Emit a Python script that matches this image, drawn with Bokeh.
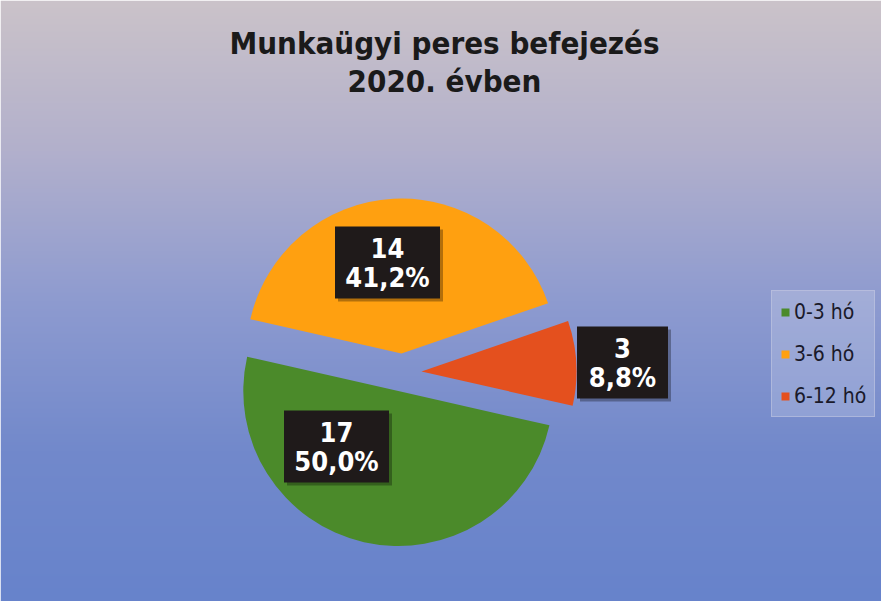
import numpy as np
from bokeh.plotting import figure
from bokeh.models import Range1d, Legend, LegendItem, ColumnDataSource
from bokeh.core.properties import value
from bokeh.embed import file_html
from bokeh.resources import INLINE

# ---- data ----
categories = ["0-3 hó", "3-6 hó", "6-12 hó"]
counts = [17, 14, 3]
title_lines = ["Munkaügyi peres befejezés", "2020. évben"]

# ---- style ----
W, H = 881, 601
colors = ["#4b8a2a", "#ffa010", "#e4501e"]
FONT = "DejaVu Sans Condensed"
CX, CY, R, EXPLODE = 402, 229, 155, 19
START_DEG = -12.8  # clockwise start of first slice
label_dx = [-66, -15, 220]
label_dy = [-74, 110, 10]
box_w = [105, 105, 91]
box_h = 72

total = sum(counts)
fracs = [c / total for c in counts]
pcts = [f"{100 * f:.1f}".replace(".", ",") + "%" for f in fracs]

starts, ends, cxs, cys = [], [], [], []
a = np.radians(START_DEG)
for f in fracs:
    a_end = a - 2 * np.pi * f
    mid = (a + a_end) / 2
    starts.append(a_end)
    ends.append(a)
    cxs.append(CX + EXPLODE * np.cos(mid))
    cys.append(CY + EXPLODE * np.sin(mid))
    a = a_end

lx = [CX + d for d in label_dx]
ly = [CY + d for d in label_dy]

src = ColumnDataSource(dict(cx=cxs, cy=cys, start=starts, end=ends, color=colors,
                            cat=categories))
lab = ColumnDataSource(dict(x=lx, y=ly, y1=[v + 15 for v in ly], y2=[v - 15 for v in ly],
                            xs=[v + 3 for v in lx], ys=[v - 3 for v in ly],
                            w=box_w, cnt=[str(c) for c in counts], pct=pcts))

p = figure(width=W, height=H, x_range=Range1d(0, W), y_range=Range1d(0, H),
           output_backend="svg", toolbar_location=None, min_border=0,
           x_axis_type=None, y_axis_type=None)
p.grid.visible = False
p.outline_line_color = None

# background gradient (top -> bottom)
stops_y = np.array([0, 150, 300, 450, 601])
stops_c = np.array([[203, 195, 201], [178, 176, 204], [142, 155, 208],
                    [114, 137, 203], [103, 131, 203]], dtype=float)
rows = np.arange(H)[::-1]  # row 0 is bottom
img = np.empty((H, 1), dtype=np.uint32)
view = img.view(dtype=np.uint8).reshape((H, 1, 4))
for ch in range(3):
    view[:, 0, ch] = np.interp(rows, stops_y, stops_c[:, ch]).astype(np.uint8)
view[:, 0, 3] = 255
p.image_rgba(image=[img], x=0, y=0, dw=W, dh=H)

wr = p.wedge(x="cx", y="cy", radius=R, start_angle="start", end_angle="end",
             fill_color="color", line_color=None, source=src)

# label boxes
p.rect(x="xs", y="ys", width="w", height=box_h, fill_color="black", fill_alpha=0.3,
       line_color=None, source=lab)
p.rect(x="x", y="y", width="w", height=box_h, fill_color="#1f1a1a",
       line_color=None, source=lab)
for col, yc in (("cnt", "y1"), ("pct", "y2")):
    p.text(x="x", y=yc, text=col, source=lab, text_align="center", text_baseline="middle",
           text_color="white", text_font=value(FONT), text_font_style="bold",
           text_font_size="27px")

# title
p.text(x=[444, 444], y=[559, 521], text=title_lines, text_align="center",
       text_baseline="middle", text_color="#1a1a1a", text_font=value(FONT),
       text_font_style="bold", text_font_size="31px")

legend = Legend(items=[LegendItem(label=categories[i], renderers=[wr], index=i)
                       for i in range(len(categories))],
                location=(771, 184), orientation="vertical",
                glyph_width=10, glyph_height=10, label_standoff=4,
                label_text_font=FONT, label_text_font_size="21px",
                label_text_color="#1a1a2a", label_height=25, spacing=17,
                padding=8, margin=0,
                background_fill_color="white", background_fill_alpha=0.18,
                border_line_color="#c8cce4", border_line_width=1)
p.add_layout(legend)

open("out.html", "w").write(file_html(p, INLINE))
